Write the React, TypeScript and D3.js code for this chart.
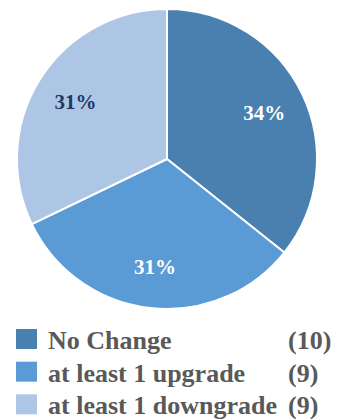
import React from "react";
import * as d3 from "d3";

const categories = ["No Change", "at least 1 upgrade", "at least 1 downgrade"];
const counts = [10, 9, 9];
const percentLabels = ["34%", "31%", "31%"];
const colors = ["#4a80b0", "#5b9bd5", "#adc6e6"];
const labelColors = ["#ffffff", "#ffffff", "#1f3a5c"];

const W = 337;
const H = 419;
const cx = 167;
const cy = 159;
const R = 150;
const FONT = "Liberation Serif, DejaVu Serif, serif";

export default function App() {
  const pie = d3.pie<number>().sort(null).value((d) => d);
  const arcs = pie(counts);
  const arc = d3.arc<d3.PieArcDatum<number>>().innerRadius(0).outerRadius(R);
  const labelArc = d3.arc<d3.PieArcDatum<number>>().innerRadius(108).outerRadius(108);
  const legendY = d3.scaleBand<number>().domain(d3.range(categories.length)).range([329, 427]).paddingInner(0);

  return (
    <svg width={W} height={H} style={{ position: "absolute", left: 0, top: 0, fontFamily: FONT }}>
      <rect width={W} height={H} fill="#ffffff" />
      <g transform={`translate(${cx},${cy})`}>
        {arcs.map((a, i) => (
          <path key={i} d={arc(a) || ""} fill={colors[i]} stroke="#ffffff" strokeWidth={2} strokeLinejoin="round" />
        ))}
        {arcs.map((a, i) => {
          const [x, y] = labelArc.centroid(a);
          return (
            <text key={i} x={x} y={y} dy="0.35em" textAnchor="middle" fontSize={21} fontWeight="bold" fill={labelColors[i]} style={{ fontFamily: FONT }}>
              {percentLabels[i]}
            </text>
          );
        })}
      </g>
      {categories.map((c, i) => {
        const y = legendY(i) as number;
        return (
          <g key={c}>
            <rect x={16} y={y} width={21} height={20} fill={colors[i]} />
            <text x={48} y={y + 20} fontSize={26} fontWeight="bold" fill="#595959" style={{ fontFamily: FONT }}>{c}</text>
            <text x={288} y={y + 20} fontSize={26} fontWeight="bold" fill="#595959" style={{ fontFamily: FONT }}>({counts[i]})</text>
          </g>
        );
      })}
    </svg>
  );
}
